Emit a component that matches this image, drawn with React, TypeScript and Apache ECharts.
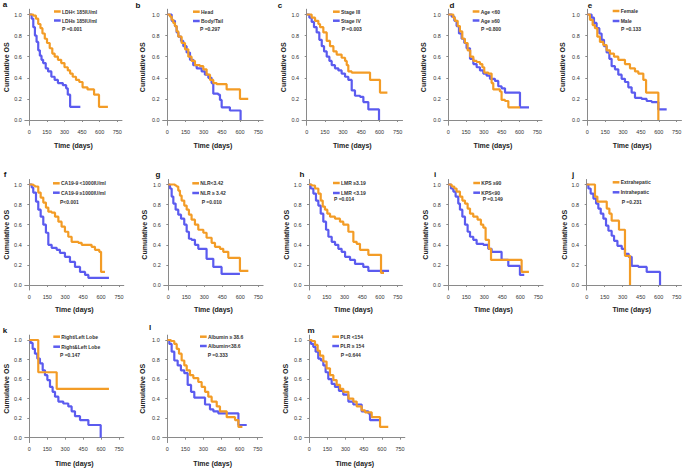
import React, { useEffect, useRef } from "react";
import * as echarts from "echarts";

// ---------- data: [day, cumulative survival] ----------
const xTicks = [0, 150, 300, 450, 600, 750];
const yTicks = [0, 0.2, 0.4, 0.6, 0.8, 1.0];

const aLow = [[0,1],[34,0.99],[56,0.96],[76,0.91],[95,0.87],[112,0.82],[132,0.77],[151,0.73],[174,0.68],[196,0.63],[216,0.6],[244,0.57],[272,0.54],[300,0.5],[328,0.47],[348,0.44],[370,0.41],[398,0.38],[426,0.36],[454,0.31],[496,0.29],[552,0.24],[594,0.125],[670,0.125]];
const aHigh = [[0,1],[20,0.96],[34,0.88],[48,0.8],[62,0.74],[76,0.66],[90,0.61],[104,0.57],[118,0.54],[140,0.49],[160,0.46],[188,0.41],[216,0.38],[244,0.35],[286,0.33],[314,0.3],[328,0.24],[348,0.125],[435,0.125]];
const bHead = [[0,1],[22,0.98],[36,0.95],[49,0.92],[63,0.89],[77,0.84],[91,0.79],[118,0.73],[146,0.67],[173,0.6],[200,0.56],[228,0.52],[269,0.51],[297,0.48],[324,0.43],[352,0.38],[379,0.35],[407,0.34],[489,0.29],[599,0.2],[667,0.2]];
const bBody = [[0,1],[36,0.94],[63,0.89],[77,0.83],[91,0.79],[113,0.75],[132,0.7],[159,0.64],[187,0.57],[214,0.52],[242,0.49],[283,0.46],[310,0.43],[338,0.4],[365,0.35],[379,0.25],[420,0.24],[434,0.19],[448,0.12],[516,0.09],[604,0]];
const cIII = [[0,1],[41,0.97],[69,0.94],[96,0.91],[110,0.88],[137,0.83],[165,0.75],[192,0.7],[220,0.65],[247,0.62],[288,0.59],[316,0.56],[330,0.52],[343,0.46],[371,0.45],[522,0.38],[604,0.26],[665,0.26]];
const cIV = [[0,1],[22,0.97],[41,0.93],[60,0.88],[82,0.83],[104,0.76],[124,0.7],[143,0.65],[165,0.6],[187,0.56],[206,0.52],[233,0.49],[261,0.47],[288,0.44],[316,0.41],[343,0.38],[371,0.28],[398,0.23],[440,0.22],[467,0.17],[508,0.1],[596,0]];
const dYoung = [[0,1],[42,0.97],[56,0.94],[79,0.89],[98,0.84],[118,0.77],[140,0.73],[163,0.66],[185,0.6],[211,0.56],[239,0.55],[267,0.53],[287,0.5],[303,0.45],[337,0.44],[365,0.35],[379,0.29],[435,0.27],[449,0.19],[478,0.18],[506,0.12],[604,0.12]];
const dOld = [[0,1],[28,0.98],[51,0.94],[70,0.89],[90,0.82],[112,0.77],[135,0.73],[154,0.68],[183,0.58],[211,0.53],[239,0.5],[267,0.47],[295,0.44],[323,0.42],[351,0.39],[393,0.37],[421,0.32],[449,0.3],[478,0.26],[604,0.12],[680,0.12]];
const eFemale = [[0,1],[22,0.95],[45,0.9],[64,0.87],[84,0.79],[106,0.74],[134,0.71],[162,0.66],[190,0.63],[224,0.6],[260,0.57],[316,0.53],[358,0.49],[400,0.46],[428,0.44],[470,0.38],[493,0.26],[596,0]];
const eMale = [[0,1],[36,0.97],[56,0.92],[78,0.87],[101,0.82],[120,0.76],[140,0.7],[162,0.64],[185,0.58],[204,0.51],[232,0.48],[260,0.43],[288,0.39],[316,0.36],[344,0.31],[372,0.26],[400,0.21],[456,0.2],[498,0.18],[540,0.17],[596,0.1],[666,0.1]];
const fLow = [[0,1],[33,0.99],[47,0.98],[75,0.92],[95,0.87],[117,0.82],[139,0.77],[159,0.73],[187,0.72],[215,0.68],[243,0.63],[270,0.58],[298,0.53],[326,0.48],[354,0.43],[410,0.42],[438,0.4],[521,0.38],[549,0.35],[585,0.33],[600,0.13],[633,0.13]];
const fHigh = [[0,1],[20,0.97],[33,0.92],[56,0.83],[75,0.75],[95,0.68],[117,0.6],[139,0.52],[159,0.4],[187,0.37],[229,0.35],[256,0.32],[298,0.28],[340,0.23],[382,0.18],[424,0.13],[466,0.1],[494,0.07],[666,0.07]];
const gLow = [[0,1],[56,0.99],[69,0.98],[83,0.94],[97,0.89],[111,0.84],[133,0.79],[153,0.75],[172,0.7],[194,0.65],[222,0.6],[250,0.55],[292,0.52],[319,0.47],[361,0.42],[389,0.38],[431,0.36],[458,0.33],[500,0.27],[597,0.14],[667,0.14]];
const gHigh = [[0,1],[14,0.96],[28,0.88],[42,0.81],[61,0.75],[83,0.7],[106,0.66],[133,0.6],[153,0.53],[172,0.46],[194,0.45],[222,0.4],[250,0.36],[319,0.26],[375,0.18],[444,0.11],[597,0.11]];
const hHigh = [[0,1],[23,0.99],[51,0.96],[79,0.91],[99,0.84],[116,0.78],[135,0.75],[155,0.71],[178,0.68],[220,0.66],[262,0.63],[290,0.6],[333,0.53],[375,0.43],[403,0.41],[431,0.35],[502,0.3],[609,0.12],[634,0.12]];
const hLow = [[0,1],[14,0.96],[37,0.91],[59,0.84],[79,0.79],[99,0.71],[121,0.63],[144,0.55],[164,0.48],[192,0.43],[220,0.4],[248,0.36],[276,0.33],[305,0.28],[347,0.25],[389,0.21],[459,0.18],[502,0.14],[677,0.14]];
const iHigh = [[0,1],[28,0.98],[50,0.96],[69,0.93],[97,0.88],[117,0.84],[139,0.81],[161,0.76],[181,0.71],[208,0.68],[244,0.65],[272,0.6],[292,0.57],[311,0.45],[339,0.36],[356,0.25],[611,0.13],[672,0.13]];
const iLow = [[0,1],[22,0.96],[42,0.93],[61,0.88],[83,0.81],[97,0.75],[117,0.68],[139,0.6],[161,0.53],[181,0.48],[208,0.45],[236,0.41],[292,0.4],[333,0.36],[361,0.33],[444,0.25],[500,0.19],[597,0.1],[633,0.1]];
const jExtra = [[0,1],[69,0.88],[89,0.83],[167,0.76],[189,0.71],[208,0.64],[269,0.55],[319,0.29],[361,0]];
const jIntra = [[0,1],[14,0.96],[33,0.91],[56,0.86],[78,0.81],[97,0.76],[117,0.71],[139,0.66],[161,0.59],[181,0.54],[208,0.49],[228,0.44],[256,0.39],[292,0.36],[319,0.31],[350,0.28],[375,0.19],[431,0.18],[500,0.13],[611,0]];
const kSingle = [[0,1],[75,0.67],[229,0.5],[666,0.5]];
const kBoth = [[0,1],[11,0.97],[28,0.91],[47,0.86],[67,0.81],[89,0.76],[112,0.69],[131,0.64],[151,0.59],[173,0.52],[195,0.47],[215,0.42],[243,0.37],[284,0.35],[326,0.32],[354,0.27],[382,0.22],[424,0.18],[494,0.13],[597,0]];
const lHigh = [[0,1],[30,0.99],[58,0.96],[78,0.91],[97,0.86],[119,0.79],[141,0.74],[161,0.69],[188,0.64],[216,0.61],[257,0.57],[285,0.52],[313,0.47],[340,0.42],[368,0.37],[410,0.32],[437,0.27],[493,0.21],[562,0.18],[590,0.11],[623,0.11]];
const lLow = [[0,1],[17,0.96],[36,0.88],[58,0.79],[86,0.74],[113,0.69],[141,0.66],[169,0.54],[197,0.47],[224,0.41],[313,0.34],[354,0.29],[382,0.27],[423,0.25],[590,0.13],[659,0.13]];
const mLow = [[0,1],[19,0.99],[47,0.95],[69,0.89],[88,0.84],[116,0.78],[143,0.71],[171,0.64],[199,0.59],[226,0.54],[254,0.5],[281,0.47],[323,0.4],[364,0.37],[392,0.32],[433,0.28],[461,0.26],[516,0.21],[585,0.11],[653,0.11]];
const mHigh = [[0,1],[14,0.96],[33,0.93],[52,0.88],[74,0.81],[96,0.79],[116,0.74],[135,0.67],[157,0.6],[185,0.55],[212,0.52],[245,0.48],[281,0.44],[323,0.37],[364,0.34],[433,0.27],[488,0.25],[502,0.18],[585,0.18]];

const panelLetters = ["a","b","c","d","e","f","g","h","i","j","k","l","m"];
const orangeNames = ["LDH< 185IU/ml","Head","Stage III","Age <60","Female","CA19-9 <1000IU/ml","NLR<3.42","LMR ≥3.19","KPS ≥90","Extrahepatic","Right/Left Lobe","Albumin ≥ 38.6","PLR <154"];
const blueNames = ["LDH≥ 185IU/ml","Body/Tail","Stage IV","Age ≥60","Male","CA19-9 ≥1000IU/ml","NLR ≥ 3.42","LMR <3.19","KPS<90","Intrahepatic","Right&Left Lobe","Albumin<38.6","PLR ≥ 154"];
const pValues = ["P =0.001","P =0.297","P =0.003","P =0.800","P =0.133","P<0.001","P =0.010","P =0.014","P =0.149","P =0.231","P =0.147","P =0.333","P =0.644"];
const orangeSeries = [aLow,bHead,cIII,dYoung,eFemale,fLow,gLow,hHigh,iHigh,jExtra,kSingle,lHigh,mLow];
const blueSeries = [aHigh,bBody,cIV,dOld,eMale,fHigh,gHigh,hLow,iLow,jIntra,kBoth,lLow,mHigh];

// ---------- layout (pixels) ----------
const XMIN = -38, XMAX = 790, YMIN = -0.05, YMAX = 1.05;
// [x of day 0, x of day 750, y of 1.0, y of 0.0]
const frames = [
  [29.3,117.3,14.5,120],[167.3,258.3,14.5,120],[306.7,397.7,14.5,120],[448.3,537.3,14.5,120],[587.3,676.7,14.5,120],
  [29.3,119,184.5,285],[168.3,258.3,184.5,285],[309,397.7,184.5,285],[448.3,538.3,184.5,285],[586.7,676.7,184.5,285],
  [29.3,119,340,437.7],[167.3,257.7,340,437.7],[309.3,400,340,437.7],
];
// [sample x, orange y, blue y, p x, p y]
const legends = [
  [54,11.5,20.5,62,29],[193,11.7,21,200,29.3],[333,11.7,20.7,341.7,29],[472.7,11.5,20.5,481,29],[612.7,11,21,621,29],
  [53,183.3,192.7,60,201.7],[192.3,183.3,193,201.7,201.7],[333,183,193,334,199.3],[473.3,183,192.7,482.7,199.3],[612.7,182.3,192.3,621.7,202.3],
  [53.3,336.7,346.7,60,355],[200,336.7,346,207.7,355],[332.3,336.7,346,340.7,355],
];
const letterPos = [[5,4],[138,5],[280,5],[452,5],[590,5],[5,174],[158,174],[302,174],[435,174],[573,174],[5,330],[150,327],[311,330]];
const xNameGap = [16.5,16.5,16.5,16.5,16.5,15.5,15.5,15.5,15.5,15.5,17,17,17];
const yNameGap = [12,16.5,15.5,16.5,16.5,15,15.5,14.5,14.5,13.5,14.5,16.5,15.5];

const ORANGE = "#F39C26";
const BLUE = "#5B5BEF";
const FONT = "Liberation Sans";

export default function App() {
  const ref = useRef<HTMLDivElement>(null);
  useEffect(() => {
    document.body.style.margin = "0";
    const chart = echarts.init(ref.current!, null, { renderer: "svg" });
    const grids: any[] = [];
    const xAxes: any[] = [];
    const yAxes: any[] = [];
    const series: any[] = [];
    const graphics: any[] = [];
    frames.forEach((f, i) => {
      const [x0, x750, y1, y0] = f;
      const ppd = (x750 - x0) / 750;
      const ppu = y0 - y1;
      grids.push({
        left: x0 + XMIN * ppd,
        width: (XMAX - XMIN) * ppd,
        top: y1 - (YMAX - 1) * ppu,
        height: (YMAX - YMIN) * ppu,
        containLabel: false,
        outerBoundsMode: "none",
      });
      xAxes.push({
        gridIndex: i, type: "value", min: XMIN, max: XMAX,
        name: "Time (days)", nameLocation: "middle", nameGap: xNameGap[i],
        nameTextStyle: { fontSize: 7, fontWeight: "bold", color: "#222", fontFamily: FONT },
        axisLine: { show: true, lineStyle: { color: "#8a8a8a", width: 1 } },
        axisTick: { show: true, customValues: xTicks, length: 2, lineStyle: { color: "#8a8a8a" } },
        axisLabel: { customValues: xTicks, fontSize: 5.5, color: "#333", margin: 3.5, fontFamily: FONT },
        splitLine: { show: false },
      });
      yAxes.push({
        gridIndex: i, type: "value", min: YMIN, max: YMAX,
        name: "Cumulative OS", nameLocation: "middle", nameGap: yNameGap[i],
        nameTextStyle: { fontSize: 7, fontWeight: "bold", color: "#222", fontFamily: FONT },
        axisLine: { show: true, lineStyle: { color: "#8a8a8a", width: 1 } },
        axisTick: { show: true, customValues: yTicks, length: 2, lineStyle: { color: "#8a8a8a" } },
        axisLabel: { customValues: yTicks, fontSize: 5.5, color: "#333", margin: 3, fontFamily: FONT, formatter: (v: number) => v.toFixed(1) },
        splitLine: { show: false },
      });
      series.push({
        type: "line", name: blueNames[i], xAxisIndex: i, yAxisIndex: i, data: blueSeries[i],
        step: "end", symbol: "none", showSymbol: false, silent: true,
        lineStyle: { color: BLUE, width: 2.2 },
      });
      series.push({
        type: "line", name: orangeNames[i], xAxisIndex: i, yAxisIndex: i, data: orangeSeries[i],
        step: "end", symbol: "none", showSymbol: false, silent: true,
        lineStyle: { color: ORANGE, width: 2.2 },
      });
      const [sx, oy, by, px, py] = legends[i];
      graphics.push(
        { type: "line", shape: { x1: sx, y1: oy, x2: sx + 6.7, y2: oy }, style: { stroke: ORANGE, lineWidth: 2.5 }, silent: true },
        { type: "line", shape: { x1: sx, y1: by, x2: sx + 6.7, y2: by }, style: { stroke: BLUE, lineWidth: 2.5 }, silent: true },
        { type: "text", x: sx + 8, y: oy, style: { text: orangeNames[i], fontSize: 5, fontWeight: "bold", fontFamily: FONT, fill: "#333", verticalAlign: "middle", align: "left" }, silent: true },
        { type: "text", x: sx + 8, y: by, style: { text: blueNames[i], fontSize: 5, fontWeight: "bold", fontFamily: FONT, fill: "#333", verticalAlign: "middle", align: "left" }, silent: true },
        { type: "text", x: px, y: py, style: { text: pValues[i], fontSize: 5, fontWeight: "bold", fontFamily: FONT, fill: "#333", verticalAlign: "middle", align: "left" }, silent: true },
        { type: "text", x: letterPos[i][0], y: letterPos[i][1], style: { text: panelLetters[i], fontSize: 8, fontWeight: "bold", fontFamily: FONT, fill: "#111", verticalAlign: "middle", align: "center" }, silent: true },
      );
    });
    chart.setOption({
      animation: false,
      backgroundColor: "#ffffff",
      grid: grids,
      xAxis: xAxes,
      yAxis: yAxes,
      series,
      graphic: graphics,
    });
    return () => chart.dispose();
  }, []);
  return <div ref={ref} style={{ position: "absolute", left: 0, top: 0, width: 685, height: 469 }} />;
}
